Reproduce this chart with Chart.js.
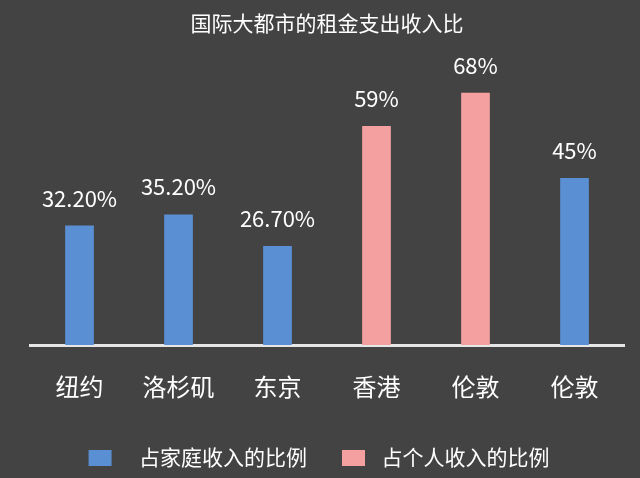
<!DOCTYPE html>
<html>
<head>
<meta charset="utf-8">
<script src="https://cdn.jsdelivr.net/npm/chart.js@4/dist/chart.umd.min.js"></script>
<style>
html,body{margin:0;padding:0;background:#434343;}
#wrap{width:640px;height:478px;}
</style>
</head>
<body>
<div id="wrap"><canvas id="c" width="640" height="478"></canvas></div>
<script>
const categories = ['纽约', '洛杉矶', '东京', '香港', '伦敦', '伦敦'];
const householdShare = [32.2, 35.2, 26.7, null, null, 45];
const personalShare = [null, null, null, 59, 68, null];
const valueLabels = ['32.20%', '35.20%', '26.70%', '59%', '68%', '45%'];
const seriesNames = ['占家庭收入的比例', '占个人收入的比例'];
const titleText = '国际大都市的租金支出收入比';

const BLUE = '#5b8fd4';
const PINK = '#f5a0a0';
const FONT = "'Noto Sans CJK SC', 'Noto Sans', sans-serif";

function legendSwatch(color, offset) {
  const cv = document.createElement('canvas');
  cv.width = 54; cv.height = 16;
  const g = cv.getContext('2d');
  g.fillStyle = color;
  g.fillRect(offset, 0, 23, 16);
  return cv;
}
const swatches = [legendSwatch(BLUE, 14), legendSwatch(PINK, 25)];

const valueLabelPlugin = {
  id: 'valueLabels',
  afterLayout(chart) {
    if (chart.legend) { chart.legend.right -= 30; }
  },
  afterDatasetsDraw(chart) {
    const ctx = chart.ctx;
    ctx.save();
    ctx.font = '22px ' + FONT;
    ctx.fillStyle = '#ffffff';
    ctx.textAlign = 'center';
    ctx.textBaseline = 'alphabetic';
    chart.data.datasets.forEach((ds, di) => {
      const meta = chart.getDatasetMeta(di);
      meta.data.forEach((bar, i) => {
        if (ds.data[i] == null) return;
        ctx.fillText(valueLabels[i], bar.x, bar.y - 19);
      });
    });
    ctx.restore();
  }
};

new Chart(document.getElementById('c'), {
  type: 'bar',
  data: {
    labels: categories,
    datasets: [
      { label: seriesNames[0], data: householdShare, backgroundColor: BLUE, barPercentage: 0.29, categoryPercentage: 1, grouped: false },
      { label: seriesNames[1], data: personalShare, backgroundColor: PINK, barPercentage: 0.29, categoryPercentage: 1, grouped: false }
    ]
  },
  options: {
    responsive: false,
    animation: false,
    devicePixelRatio: 1,
    layout: { padding: { left: 30, right: 16, top: 0, bottom: 0 } },
    plugins: {
      title: {
        display: true,
        text: titleText,
        color: '#ffffff',
        font: { family: FONT, size: 21, weight: 'normal' },
        padding: { top: 10, bottom: 13 }
      },
      legend: {
        position: 'bottom',
        labels: {
          color: '#ffffff',
          font: { family: FONT, size: 21 },
          usePointStyle: true,
          pointStyleWidth: 54,
          boxHeight: 16,
          padding: 10,
          generateLabels(chart) {
            return chart.data.datasets.map((ds, i) => ({
              text: ds.label,
              fillStyle: ds.backgroundColor,
              strokeStyle: ds.backgroundColor,
              lineWidth: 0,
              pointStyle: swatches[i],
              fontColor: '#ffffff',
              datasetIndex: i,
              hidden: false
            }));
          }
        }
      },
      tooltip: { enabled: false }
    },
    scales: {
      x: {
        grid: { display: false, drawTicks: false },
        border: { display: true, color: '#e6e6e6', width: 3 },
        ticks: { color: '#ffffff', font: { family: FONT, size: 24 }, padding: 27 },
        afterFit(scale) { scale.height = 92; }
      },
      y: {
        display: false,
        min: 0,
        max: 80
      }
    }
  },
  plugins: [valueLabelPlugin]
});
</script>
</body>
</html>
